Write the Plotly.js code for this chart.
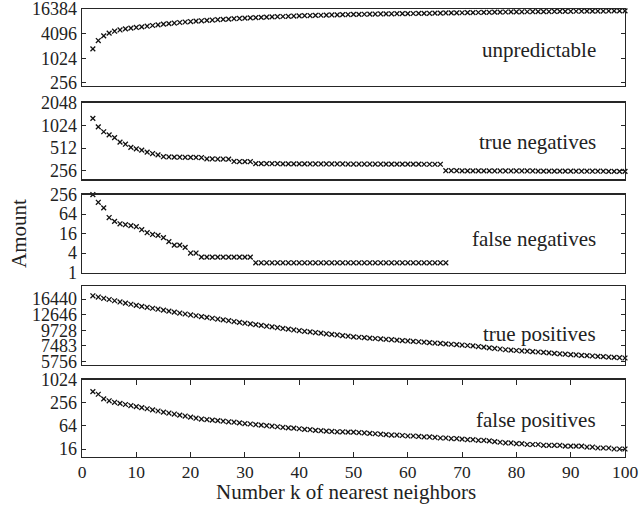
<!DOCTYPE html>
<html>
<head>
<meta charset="utf-8">
<script src="https://cdn.plot.ly/plotly-3.0.1.min.js"></script>
<style>html,body{margin:0;padding:0;background:#fff;}#chart{width:643px;height:505px;}</style>
</head>
<body>
<div id="chart"></div>
<script>
// k = number of nearest neighbors
var kValues = [2,3,4,5,6,7,8,9,10,11,12,13,14,15,16,17,18,19,20,21,22,23,24,25,26,27,28,29,30,31,32,33,34,35,36,37,38,39,40,41,42,43,44,45,46,47,48,49,50,51,52,53,54,55,56,57,58,59,60,61,62,63,64,65,66,67,68,69,70,71,72,73,74,75,76,77,78,79,80,81,82,83,84,85,86,87,88,89,90,91,92,93,94,95,96,97,98,99,100];

var unpredictable = [1730,2780,3620,4220,4700,5050,5350,5600,5800,6000,6230,6490,6740,7000,7230,7460,7680,7900,8110,8290,8470,8650,8830,8990,9160,9320,9510,9660,9820,9960,10120,10250,10400,10530,10660,10790,10910,11050,11170,11270,11370,11470,11570,11670,11760,11850,11950,12040,12130,12190,12250,12310,12370,12440,12490,12550,12610,12670,12720,12780,12830,12890,12940,13000,13050,13170,13220,13270,13330,13390,13440,13520,13590,13680,13760,13820,13910,13950,14000,14050,14090,14140,14180,14230,14280,14340,14380,14430,14470,14510,14550,14580,14620,14660,14690,14730,14760,14800,14830];

var trueNegatives = [1270,980,843,765,705,614,576,523,500,480,452,433,416,393,390,388,387,386,385,384,383,368,367,366,366,365,340,339,338,337,318,318,317,317,317,316,316,316,316,316,315,315,315,315,315,315,315,314,314,314,314,314,314,314,313,313,313,313,313,313,313,312,312,312,312,256,256,256,255,255,255,255,255,255,254,254,254,254,254,254,254,254,253,253,253,253,253,253,253,252,252,252,252,252,252,251,251,251,251];

var falseNegatives = [256,148,99,50,38,32,30,28,26,21,17,15,14,12,9,7,7,6,4,4,3,3,3,3,3,3,3,3,3,3,2,2,2,2,2,2,2,2,2,2,2,2,2,2,2,2,2,2,2,2,2,2,2,2,2,2,2,2,2,2,2,2,2,2,2,2,null,null,null,null,null,null,null,null,null,null,null,null,null,null,null,null,null,null,null,null,null,null,null,null,null,null,null,null,null,null,null,null,null];

var truePositives = [17380,17020,16670,16330,15990,15670,15350,15070,14790,14550,14320,14090,13870,13650,13430,13210,13000,12790,12590,12420,12250,12080,11910,11750,11590,11430,11270,11120,10960,10830,10690,10560,10420,10290,10160,10030,9910,9780,9660,9560,9460,9360,9270,9170,9080,8990,8890,8800,8710,8650,8590,8530,8470,8410,8360,8300,8240,8180,8130,8070,8020,7960,7910,7850,7800,7740,7690,7640,7590,7530,7480,7400,7330,7240,7160,7100,7010,6970,6920,6870,6840,6790,6750,6700,6650,6590,6550,6500,6460,6420,6380,6350,6310,6270,6240,6200,6170,6130,6100];

var falsePositives = [505,430,326,290,265,248,232,218,205,192,180,168,157,147,139,131,123,116,109,102,97,94,91,88,85,82,80,77,74,72,69,67,65,63,61,59,57,56,54,52,51,49,48,47,46,45,45,44,44,43,42,41,40,39,38,37,37,36,35,35,34,33,33,32,31,31,30,30,29,28,28,27,27,26,25,24,23,23,22,22,21,21,21,20,20,20,20,19,19,19,19,18,18,17,17,17,16,16,16];

var panelLabels = ["unpredictable","true negatives","false negatives","true positives","false positives"];
var yTickVals = [
  [256,1024,4096,16384],
  [256,512,1024,2048],
  [1,4,16,64,256],
  [5756,7483,9728,12646,16440],
  [16,64,256,1024]
];
var xTickVals = [0,10,20,30,40,50,60,70,80,90,100];

var series = [unpredictable, trueNegatives, falseNegatives, truePositives, falsePositives];
var yRanges = [[2.33,4.2165],[2.2957,3.3125],[0,2.4085],[3.736,4.308],[0.9955,3.0115]];
var domains = [[0.8282,1],[0.6201,0.7910],[0.4118,0.5858],[0.2059,0.3806],[0,0.1724]];
var labelY = [0.9085,0.704,0.4863,0.275,0.0832];

var FONT = "Liberation Serif";
var LINE = "#262626";
var traces = [];
var layout = {
  width: 643, height: 505,
  margin: {l: 82, r: 18, t: 9, b: 47.7},
  paper_bgcolor: "#fff", plot_bgcolor: "#fff",
  showlegend: false,
  font: {family: FONT, size: 17, color: "#222"},
  annotations: []
};

for (var i = 0; i < 5; i++) {
  var n = i + 1;
  var xa = "x" + n, ya = "y" + n;
  traces.push({
    x: kValues, y: series[i], type: "scatter", mode: "markers",
    xaxis: xa, yaxis: ya, cliponaxis: false,
    marker: {symbol: "x-thin", size: 4.8, color: "#111", line: {width: 1.3, color: "#111"}},
    hoverinfo: "x+y"
  });
  var isBottom = (i === 4);
  layout["xaxis" + n] = {
    domain: [0, 1], anchor: ya, range: [0, 100],
    showline: true, linecolor: LINE, linewidth: 1.4, mirror: isBottom ? "ticks" : true,
    ticks: isBottom ? "inside" : "", ticklen: 5, tickcolor: LINE, tickwidth: 1,
    tickvals: xTickVals, ticktext: xTickVals.map(String),
    showticklabels: isBottom, showgrid: false, zeroline: false,
    ticklabeloverflow: "allow", ticklabelstandoff: -1,
    tickfont: {family: FONT, size: 17.5, color: "#222"}
  };
  layout["yaxis" + n] = {
    domain: domains[i], anchor: xa, type: "log", range: yRanges[i],
    showline: true, linecolor: LINE, linewidth: 1.4, mirror: "ticks",
    ticks: "inside", ticklen: 4, tickcolor: LINE, tickwidth: 1,
    tickvals: yTickVals[i], ticktext: yTickVals[i].map(String),
    showgrid: false, zeroline: false, ticklabeloverflow: "allow",
    tickfont: {family: FONT, size: 18, color: "#222"}
  };
  layout.annotations.push({
    text: panelLabels[i], xref: "x5", x: 95, yref: "paper", y: labelY[i],
    xanchor: "right", yanchor: "middle", showarrow: false,
    font: {family: FONT, size: 21, color: "#222"}
  });
}
layout.annotations.push({
  text: "Amount", xref: "paper", x: -0.117, yref: "paper", y: 0.4988,
  textangle: -90, xanchor: "center", yanchor: "middle", showarrow: false,
  font: {family: FONT, size: 21, color: "#222"}
});
layout.annotations.push({
  text: "Number k of nearest neighbors", xref: "paper", x: 0.487, yref: "paper", y: -0.079,
  xanchor: "center", yanchor: "middle", showarrow: false,
  font: {family: FONT, size: 21, color: "#222"}
});

Plotly.newPlot("chart", traces, layout, {displayModeBar: false, staticPlot: true});
</script>
</body>
</html>
